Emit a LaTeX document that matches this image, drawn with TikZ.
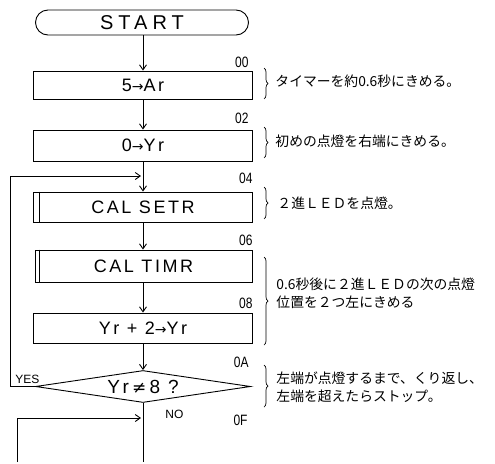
\documentclass[tikz,border=0pt]{standalone}
\usepackage{fontspec}
\setmainfont{Liberation Sans}
\newfontfamily\jp{Noto Sans CJK JP}
\newfontfamily\sym{DejaVu Sans}
\newfontfamily\boxfont[LetterSpace=14]{Liberation Sans}
\newfontfamily\startfont[LetterSpace=25]{Liberation Sans}
\newfontfamily\addrfont[FakeStretch=0.8]{Liberation Sans}
\usetikzlibrary{shapes.geometric,arrows.meta,decorations.pathreplacing}
\newcommand{\ar}{{\sym\fontsize{14}{14}\selectfont →}}
\begin{document}
\begin{tikzpicture}[x=1pt,y=-1pt,line width=0.9pt,
  proc/.style={draw,rectangle,minimum width=219pt,inner sep=0pt,
    font=\boxfont\fontsize{18}{18}\selectfont},
  flow/.style={-{Straight Barb[length=5pt,width=7pt]}},
  addr/.style={anchor=east,inner sep=0pt,font=\addrfont\fontsize{15}{15}\selectfont},
  note/.style={anchor=west,inner sep=0pt,align=left,font=\jp\fontsize{13.8}{18}\selectfont},
  brc/.style={decorate,decoration={brace,amplitude=4pt},line width=0.7pt},
  lbl/.style={inner sep=0pt,font=\fontsize{12}{12}\selectfont}]
\useasboundingbox (0,0) rectangle (495,463);
% nodes
\node[draw,rectangle,rounded corners=12.5pt,minimum width=213pt,minimum height=25pt,
  inner sep=0pt,font=\startfont\fontsize{20}{20}\selectfont] (start) at (142,22.5) {START};
\node[proc,minimum height=28pt] (b1) at (143,85) {5\ar Ar};
\node[proc,minimum height=31pt] (b2) at (143,145.5) {0\ar Yr};
\node[proc,minimum height=30pt] (b3) at (143,207) {CAL SETR};
\node[proc,minimum height=32pt,minimum width=217pt] (b4) at (143.5,266) {CAL TIMR};
\node[proc,minimum height=30pt] (b5) at (143,328) {Yr + 2\ar Yr};
\node[draw,diamond,aspect=6.75,minimum width=215pt,minimum height=32pt,inner sep=0pt,
  font=\boxfont\fontsize{19}{19}\selectfont] (dec) at (143,386.5) {Yr\,{\sym\fontsize{17}{17}\selectfont ≠}\,8 ?};
% subroutine inner lines
\draw (b3.north west) ++(6,0) coordinate (s1) -- (s1 |- b3.south);
\draw (b4.north west) ++(5,0) coordinate (s2) -- (s2 |- b4.south);
% flow
\draw[flow] (start.south -| b1.north) -- (b1.north);
\draw[flow] (b1) -- (b2);
\draw[flow] (b2) -- (b3);
\draw[flow] (b3.south) -- (b3.south |- b4.north);
\draw[flow] (b4.south -| b5.north) -- (b5.north);
\draw[flow] (b5) -- (dec);
\coordinate (lp) at (10,386.5);
\coordinate (j1) at (141,176);
\draw[flow] (dec.west) -- (lp) |- (j1);
\coordinate (bot) at (143,462);
\draw (dec.south) -- (bot);
\coordinate (l2) at (17,462);
\coordinate (j2) at (141,418);
\draw[flow] (l2) |- (j2);
% labels
\node[lbl,anchor=west] (yes) at (15,379) {YES};
\node[lbl,anchor=west] (no) at (165,414) {NO};
\node[addr] (a00) at (249,62) {00};
\node[addr] (a02) at (249,118) {02};
\node[addr] (a04) at (253,178) {04};
\node[addr] (a06) at (253,240) {06};
\node[addr] (a08) at (253,303) {08};
\node[addr] (a0A) at (249,362) {0A};
\node[addr] (a0F) at (248,420) {0F};
% braces
\draw[brc] (264,68) -- (264,99);
\draw[brc] (264,127) -- (264,158);
\draw[brc] (264,187) -- (264,219);
\draw[brc] (264,257) -- (264,345);
\draw[brc] (264,365) -- (264,407);
% notes
\node[note] (n1) at (275,81) {タイマーを約0.6秒にきめる。};
\node[note] (n2) at (275,141) {初めの点燈を右端にきめる。};
\node[note] (n3) at (277,203) {２進ＬＥＤを点燈。};
\node[note] (n4) at (276,293.5) {0.6秒後に２進ＬＥＤの次の点燈\\位置を２つ左にきめる};
\node[note] (n5) at (276,387.5) {左端が点燈するまで、くり返し、\\左端を超えたらストップ。};
\end{tikzpicture}
\end{document}
